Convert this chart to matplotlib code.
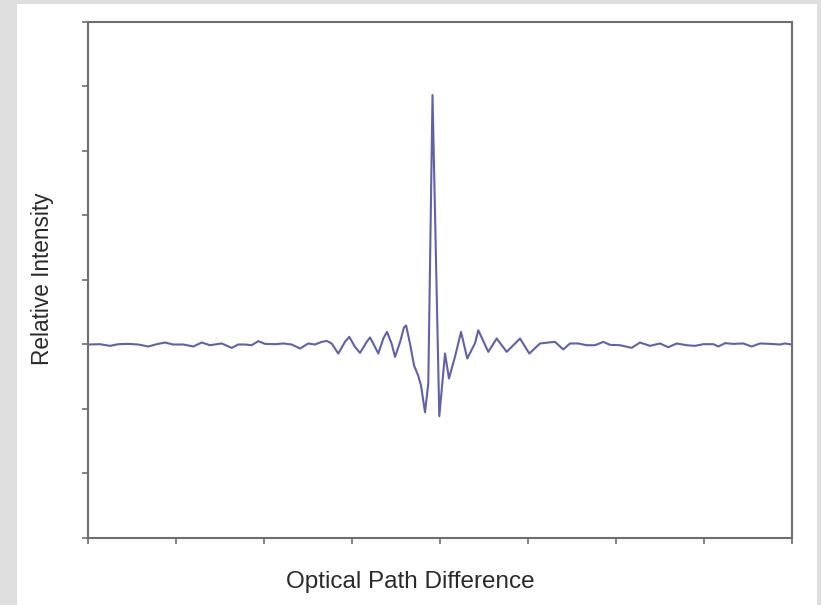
import matplotlib.pyplot as plt
from matplotlib.patches import Rectangle

# interferogram (x: 0..8, y: relative units)
opd = [0.003, 0.136, 0.250, 0.344, 0.458, 0.572, 0.685, 0.781, 0.875, 0.969,
       1.083, 1.197, 1.292, 1.386, 1.519, 1.633, 1.708, 1.784, 1.860, 1.935,
       2.011, 2.125, 2.219, 2.314, 2.409, 2.503, 2.580, 2.656, 2.712, 2.769,
       2.844, 2.920, 2.969, 3.034, 3.091, 3.167, 3.205, 3.261, 3.299, 3.356,
       3.398, 3.451, 3.489, 3.550, 3.590, 3.615, 3.659, 3.705, 3.750, 3.784,
       3.830, 3.867, 3.915, 3.992, 4.057, 4.102, 4.170, 4.239, 4.310, 4.398,
       4.435, 4.549, 4.644, 4.758, 4.909, 5.015, 5.136, 5.231, 5.307, 5.401,
       5.477, 5.572, 5.667, 5.761, 5.856, 5.932, 6.045, 6.178, 6.273, 6.386,
       6.500, 6.594, 6.690, 6.803, 6.898, 6.992, 7.106, 7.163, 7.239, 7.333,
       7.447, 7.542, 7.636, 7.750, 7.864, 7.920, 7.997]
intensity = [-0.005, 0.000, -0.026, 0.000, 0.005, -0.005, -0.036, 0.000, 0.026, -0.005,
             -0.005, -0.036, 0.026, -0.016, 0.011, -0.057, -0.005, -0.005, -0.016, 0.047,
             0.005, 0.000, 0.011, -0.005, -0.067, 0.011, -0.005, 0.036, 0.051, 0.011,
             -0.145, 0.036, 0.114, -0.042, -0.135, 0.036, 0.104, -0.042, -0.145, 0.089,
             0.191, 0.005, -0.197, 0.050, 0.260, 0.290, 0.010, -0.330, -0.480, -0.640,
             -1.056, -0.606, 3.866, -1.118, -0.145, -0.532, -0.197, 0.190, -0.222, 0.016,
             0.217, -0.119, 0.088, -0.119, 0.088, -0.145, 0.011, 0.026, 0.036, -0.082,
             0.011, 0.011, -0.016, -0.016, 0.036, -0.010, -0.016, -0.057, 0.026, -0.026,
             0.011, -0.047, 0.011, -0.016, -0.026, 0.000, 0.000, -0.036, 0.016, 0.005,
             0.011, -0.036, 0.011, 0.005, -0.005, 0.011, -0.005]

xticks = list(range(0, 9))
yticks = list(range(-3, 6))

fig = plt.figure(figsize=(8.21, 6.05), dpi=100, facecolor='#dedede')
# white panel inside the grey frame
fig.patches.append(Rectangle((17 / 821, 0), 800 / 821, 601 / 605,
                             transform=fig.transFigure, facecolor='white',
                             edgecolor='none', zorder=-10))

ax = fig.add_axes([88 / 821, 1 - 537.5 / 605, 704 / 821, 515.5 / 605])
ax.set_zorder(2)
ax.plot(opd, intensity, color='#6161a8', linewidth=1.5, solid_joinstyle='round')
ax.set_xlim(0, 8)
ax.set_ylim(-3, 5)
ax.set_xticks(xticks)
ax.set_yticks(yticks)
ax.tick_params(direction='out', length=4, width=1.2, color='#6e6e6e',
               labelleft=False, labelbottom=False)
for s in ax.spines.values():
    s.set_color('#6e6e6e')
    s.set_linewidth(1.5)

fig.text(410 / 821, 1 - 582 / 605, 'Optical Path Difference', ha='center', va='center',
         fontsize=17.5, family='Liberation Sans', color='#2a2a2a')
fig.text(42 / 821, 1 - 279 / 605, 'Relative Intensity', ha='center', va='center',
         rotation=90, fontsize=16.3, family='Liberation Sans', color='#2a2a2a')

fig.savefig('out.png', dpi=100, facecolor=fig.get_facecolor())
